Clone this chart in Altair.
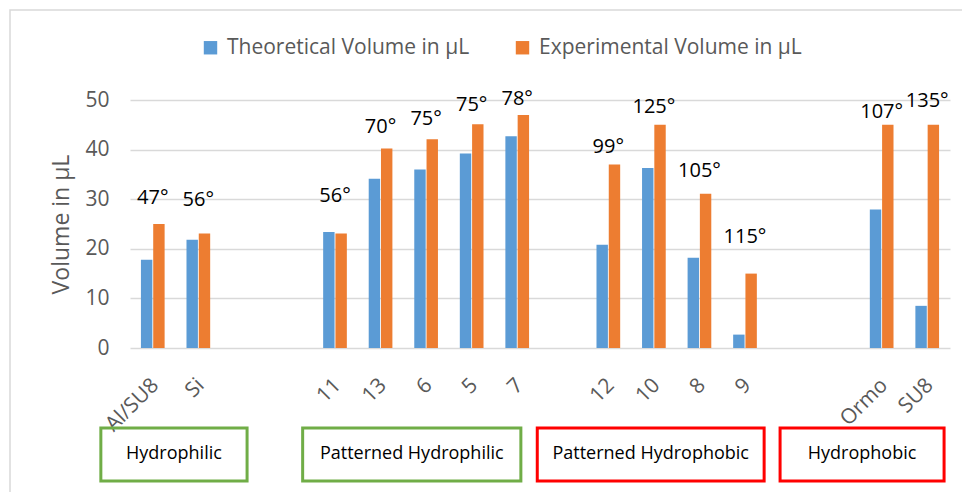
import altair as alt
import pandas as pd

# ---- data ----
axis_categories = ["Al/SU8", "Si", " ", "  ", "11", "13", "6", "5", "7", "   ",
                   "12", "10", "8", "9", "    ", "     ", "Ormo", "SU8"]
samples = ["Al/SU8", "Si", "11", "13", "6", "5", "7", "12", "10", "8", "9", "Ormo", "SU8"]
theoretical = [17.8, 21.8, 23.4, 34.1, 36.0, 39.2, 42.7, 20.8, 36.3, 18.2, 2.7, 27.9, 8.5]
experimental = [25.0, 23.1, 23.1, 40.2, 42.1, 45.1, 47.0, 37.0, 45.0, 31.1, 15.0, 45.0, 45.0]
angles = ["47°", "56°", "56°", "70°", "75°", "75°", "78°", "99°", "125°", "105°", "115°", "107°", "135°"]
angle_label_y = [30.9, 30.5, 31.3, 45.1, 46.8, 49.6, 50.8, 41.2, 49.1, 36.3, 22.9, 48.1, 50.5]

series_names = ["Theoretical Volume in µL", "Experimental Volume in µL"]
series_colors = ["#5B9BD5", "#ED7D31"]

groups = ["Hydrophilic", "Patterned Hydrophilic", "Patterned Hydrophobic", "Hydrophobic"]
group_start = [-0.64, 3.79, 8.94, 14.27]   # in category-slot units
group_end = [2.57, 8.58, 13.92, 17.87]
group_colors = ["#70AD47", "#70AD47", "#FF0000", "#FF0000"]

FONT = "Open Sans"
W, H = 820, 248

bars_df = pd.DataFrame({
    "sample": samples * 2,
    "series": [series_names[0]] * len(samples) + [series_names[1]] * len(samples),
    "volume": theoretical + experimental,
})
ann_df = pd.DataFrame({"sample": samples, "label": angles, "ly": angle_label_y})
grp_df = pd.DataFrame({"group": groups, "start": group_start, "end": group_end,
                       "color": group_colors})
grp_df["mid"] = (grp_df["start"] + grp_df["end"]) / 2

x_band = alt.Scale(domain=axis_categories, paddingInner=0.48, paddingOuter=0.24)
y_scale = alt.Scale(domain=[0, 50], nice=False)

bars = alt.Chart(bars_df).mark_bar().encode(
    x=alt.X("sample:N", scale=x_band, sort=axis_categories, title=None,
            axis=alt.Axis(labelAngle=-45, labelFont=FONT, labelFontSize=21,
                          labelColor="#595959", domain=False, ticks=False,
                          labelPadding=26, labelOffset=-5, grid=False)),
    xOffset=alt.XOffset("series:N", sort=series_names,
                        scale=alt.Scale(domain=series_names, paddingInner=0.07)),
    y=alt.Y("volume:Q", scale=y_scale,
            axis=alt.Axis(values=[0, 10, 20, 30, 40, 50], labelFont=FONT,
                          labelFontSize=21, labelColor="#595959", domain=False,
                          ticks=False, labelPadding=21, gridColor="#D9D9D9",
                          gridWidth=1.3, title="Volume in µL", titleFont=FONT,
                          titleFontSize=23, titleFontWeight="normal",
                          titleColor="#595959", titleX=-69, titleY=H / 2,
                          titleAngle=270, titleAlign="center",
                          titleBaseline="middle")),
    color=alt.Color("series:N",
                    scale=alt.Scale(domain=series_names, range=series_colors),
                    sort=series_names,
                    legend=alt.Legend(title=None, orient="none", direction="horizontal",
                                      legendX=70, legendY=-63, symbolType="square",
                                      symbolSize=180, symbolStrokeWidth=0,
                                      labelFont=FONT, labelFontSize=21,
                                      labelColor="#595959", labelOffset=6,
                                      columnPadding=42, labelLimit=0)),
)

ann = alt.Chart(ann_df).mark_text(font=FONT, fontSize=20, color="#000000",
                                  baseline="middle", dy=3).encode(
    x=alt.X("sample:N", scale=x_band, sort=axis_categories, axis=None),
    y=alt.Y("ly:Q", scale=y_scale),
    text="label:N",
)

x_slots = alt.Scale(domain=[0, len(axis_categories)], nice=False, zero=False)

boxes = alt.Chart(grp_df).mark_rect(fillOpacity=0, strokeWidth=3).encode(
    x=alt.X("start:Q", scale=x_slots, axis=None),
    x2="end:Q",
    y=alt.value(H + 80),
    y2=alt.value(H + 133),
    stroke=alt.Stroke("color:N", scale=None),
)

box_text = alt.Chart(grp_df).mark_text(font=FONT, fontSize=18, color="#000000",
                                       baseline="middle").encode(
    x=alt.X("mid:Q", scale=x_slots, axis=None),
    y=alt.value(H + 106),
    text="group:N",
)

frame = alt.Chart(alt.Data(values=[{"a": 1}])).mark_rect(
    fillOpacity=0, stroke="#D9D9D9", strokeWidth=1.5).encode(
    x=alt.value(-120), x2=alt.value(W + 100),
    y=alt.value(-90), y2=alt.value(H + 300),
)

chart = alt.layer(frame, bars, ann, boxes, box_text).resolve_scale(
    x="independent"
).properties(
    width=W, height=H,
    autosize=alt.AutoSizeParams(type="none"),
    padding={"left": 122, "top": 92, "right": 12, "bottom": 144},
    background="white",
).configure_view(stroke=None)

chart.save("out.html", embed_options={"renderer": "svg", "actions": False})
